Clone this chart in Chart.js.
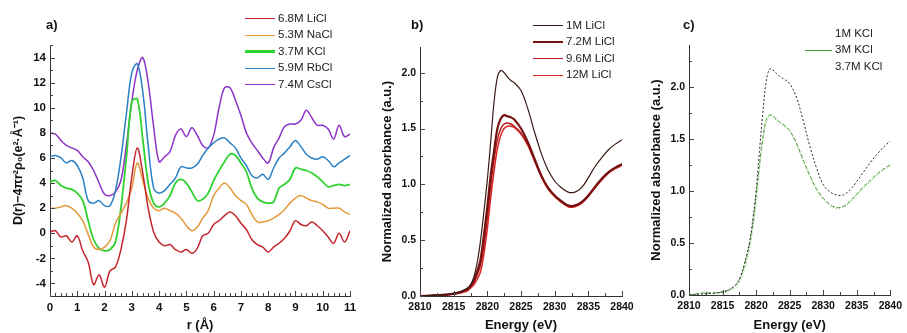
<!DOCTYPE html>
<html>
<head>
<meta charset="utf-8">
<title>RDF and Cl K-edge XANES</title>
<script src="https://cdn.jsdelivr.net/npm/chart.js@4.4.1/dist/chart.umd.min.js"></script>
<style>
  body { margin: 0; background: #fff; font-family: "Liberation Sans", Arial, sans-serif; }
  #wrap { position: relative; width: 907px; height: 333px; overflow: hidden; }
  canvas { position: absolute; top: 0; }
  .tag { position: absolute; font-weight: bold; font-size: 13px; color: #111; }
  .legend { position: absolute; font-size: 11.5px; color: #222; }
  .legend div { height: 16.4px; line-height: 16.4px; white-space: nowrap; }
  .legend i { display: inline-block; width: 30px; height: 0; vertical-align: middle; margin-right: 3px; }
</style>
</head>
<body>
<div id="wrap">
  <canvas id="chartA" width="362" height="333" style="left:0"></canvas>
  <canvas id="chartB" width="270" height="333" style="left:370px"></canvas>
  <canvas id="chartC" width="267" height="333" style="left:640px"></canvas>

  <div class="tag" style="left:46px;top:17px">a)</div>
  <div class="tag" style="left:411px;top:17px">b)</div>
  <div class="tag" style="left:683px;top:17px">c)</div>

  <div class="legend" id="legA" style="left:245px;top:10px"></div>
  <div class="legend" id="legB" style="left:533px;top:17px"></div>
  <div class="legend" id="legC" style="left:805px;top:25px"></div>
</div>

<script>
// --- a) D(r) curves, r in Å ---
const rValues = [0, 0.2, 0.4, 0.6, 0.8, 1.0, 1.2, 1.4, 1.6, 1.8, 2.0, 2.2, 2.4, 2.6, 2.8, 3.0, 3.2, 3.4, 3.6, 3.8,
  4.0, 4.2, 4.4, 4.6, 4.8, 5.0, 5.2, 5.4, 5.6, 5.8, 6.0, 6.2, 6.4, 6.6, 6.8, 7.0, 7.2, 7.4, 7.6, 7.8,
  8.0, 8.2, 8.4, 8.6, 8.8, 9.0, 9.2, 9.4, 9.6, 9.8, 10.0, 10.2, 10.4, 10.6, 10.8, 11.0];

const liCl68 = [0.1, 0.2, -0.3, -0.2, -0.7, -0.2, -1.4, -2.3, -4.1, -3.3, -4.3, -3.0, -2.7, -1.3, 1.0, 4.5, 6.8, 4.8, 2.0, 0.1,
  -0.7, -1.0, -0.9, -1.3, -1.5, -1.3, -1.6, -1.2, -0.2, 0.0, 0.7, 1.0, 1.4, 1.7, 1.4, 0.8, 0.3, -0.5, -0.9, -1.1,
  -1.5, -1.1, -0.8, -0.4, 0.2, 1.0, 0.7, 0.6, 0.9, 0.6, 0.2, -0.3, -0.8, 0.0, -0.7, 0.2];
const naCl53 = [2.0, 2.0, 2.1, 2.2, 2.0, 1.6, 1.0, -0.1, -1.1, -1.3, -1.1, -0.6, 0.8, 1.6, 2.4, 3.6, 5.6, 4.2, 2.8, 2.0,
  1.8, 2.0, 1.8, 1.6, 1.2, 0.6, 0.2, 0.5, 1.2, 1.8, 3.0, 3.6, 4.0, 3.6, 3.0, 2.6, 2.3, 1.5, 0.9, 0.9,
  1.0, 1.2, 1.5, 1.9, 2.4, 2.8, 3.0, 2.8, 2.6, 2.5, 2.3, 2.0, 2.0, 2.0, 1.7, 1.5];
const kCl37 = [4.1, 4.2, 3.8, 3.6, 3.5, 3.2, 2.6, 1.0, -0.5, -1.2, -1.4, -1.3, -0.7, 2.0, 6.0, 10.5, 10.7, 7.5, 4.0, 2.4,
  2.1, 2.4, 3.0, 4.0, 4.3, 4.0, 3.3, 2.6, 2.7, 3.2, 4.2, 5.0, 5.7, 6.3, 6.2, 5.6, 4.9, 3.6, 2.8, 2.5,
  2.4, 2.5, 3.6, 3.9, 4.3, 5.2, 5.1, 5.0, 4.8, 4.5, 4.1, 3.7, 3.8, 3.9, 3.8, 3.9];
const rbCl59 = [6.1, 6.2, 6.0, 5.6, 5.8, 5.4, 4.4, 2.6, 2.4, 2.6, 2.2, 2.2, 3.4, 6.0, 9.5, 12.8, 13.5, 11.3, 7.0, 3.6,
  3.2, 3.4, 3.9, 4.4, 5.3, 5.2, 5.2, 5.5, 6.2, 6.8, 7.2, 7.5, 7.6, 7.2, 6.8, 6.0, 5.4, 4.6, 4.4, 4.7,
  4.3, 5.2, 6.0, 6.4, 6.9, 7.4, 6.9, 6.3, 6.0, 5.9, 6.1, 5.8, 5.3, 5.6, 5.9, 6.2];
const csCl74 = [8.0, 7.9, 7.4, 7.0, 6.8, 6.6, 6.1, 5.7, 5.0, 4.0, 3.1, 3.0, 3.3, 4.2, 7.0, 10.5, 13.0, 14.0, 12.0, 8.5,
  5.7, 6.1, 6.5, 7.8, 8.3, 7.7, 8.4, 7.8, 7.0, 6.8, 7.8, 10.0, 11.6, 11.6, 10.6, 9.4, 8.0, 7.2, 6.6, 6.0,
  5.6, 6.8, 7.6, 8.5, 8.7, 8.7, 9.0, 9.8, 9.2, 8.6, 8.6, 8.3, 7.5, 8.6, 7.7, 7.9];

// --- b) and c) XANES, energy in eV ---
const energy = [2810, 2812, 2814, 2815, 2816, 2817, 2817.5, 2818, 2818.5, 2819, 2819.5, 2820, 2820.5, 2821, 2821.5,
  2822, 2822.5, 2823, 2823.5, 2824, 2825, 2826, 2827, 2828, 2829, 2830, 2831, 2832, 2833, 2834, 2835, 2836,
  2837, 2838, 2839, 2840];

const li1M = [0.0, 0.005, 0.015, 0.025, 0.04, 0.07, 0.1, 0.17, 0.3, 0.5, 0.76, 1.04, 1.38, 1.74, 1.96, 2.02, 2.0, 1.96, 1.93, 1.91,
  1.84, 1.68, 1.47, 1.28, 1.13, 1.03, 0.97, 0.93, 0.93, 0.97, 1.06, 1.16, 1.24, 1.31, 1.36, 1.40];
const li72M = [0.0, 0.005, 0.012, 0.02, 0.035, 0.06, 0.09, 0.14, 0.22, 0.33, 0.55, 0.8, 1.08, 1.3, 1.5, 1.59, 1.62, 1.61, 1.6, 1.58,
  1.5, 1.38, 1.23, 1.08, 0.97, 0.9, 0.85, 0.81, 0.81, 0.84, 0.9, 0.98, 1.05, 1.11, 1.15, 1.18];
const li96M = [0.0, 0.005, 0.012, 0.02, 0.03, 0.05, 0.08, 0.12, 0.19, 0.28, 0.45, 0.7, 0.98, 1.22, 1.4, 1.5, 1.54, 1.55, 1.54, 1.52,
  1.46, 1.36, 1.22, 1.08, 0.97, 0.9, 0.84, 0.81, 0.81, 0.84, 0.9, 0.97, 1.05, 1.11, 1.15, 1.18];
const li12M = [0.0, 0.005, 0.01, 0.018, 0.028, 0.045, 0.07, 0.1, 0.15, 0.22, 0.38, 0.6, 0.88, 1.12, 1.32, 1.44, 1.5, 1.52, 1.52, 1.51,
  1.45, 1.35, 1.21, 1.07, 0.96, 0.89, 0.84, 0.8, 0.8, 0.83, 0.89, 0.97, 1.04, 1.1, 1.14, 1.17];

const k1M = [0.0, 0.01, 0.02, 0.03, 0.05, 0.1, 0.15, 0.24, 0.36, 0.5, 0.72, 1.0, 1.38, 1.75, 2.05, 2.17, 2.16, 2.13, 2.1, 2.08,
  2.03, 1.9, 1.68, 1.43, 1.22, 1.06, 0.99, 0.96, 0.96, 1.01, 1.09, 1.18, 1.27, 1.35, 1.42, 1.48];
const k3M = [0.0, 0.02, 0.02, 0.03, 0.05, 0.1, 0.15, 0.23, 0.34, 0.48, 0.68, 0.95, 1.25, 1.5, 1.68, 1.73, 1.72, 1.69, 1.66, 1.64,
  1.58, 1.46, 1.3, 1.15, 1.02, 0.93, 0.87, 0.84, 0.85, 0.9, 0.97, 1.04, 1.1, 1.16, 1.21, 1.25];
const k37M = [0.0, 0.01, 0.015, 0.02, 0.04, 0.08, 0.12, 0.2, 0.3, 0.44, 0.62, 0.88, 1.2, 1.48, 1.66, 1.72, 1.71, 1.68, 1.65, 1.63,
  1.57, 1.45, 1.29, 1.14, 1.01, 0.92, 0.86, 0.83, 0.84, 0.89, 0.96, 1.03, 1.09, 1.15, 1.2, 1.24];

const FONT = '"Liberation Sans", Arial, sans-serif';

function pts(xs, ys) {
  return xs.map((x, i) => ({ x, y: ys[i] }));
}

function isMultiple(v, step) {
  const q = v / step;
  return Math.abs(q - Math.round(q)) < 1e-6;
}

// ticks drawn inward, short ones for minor steps
const innerTicks = {
  id: 'innerTicks',
  afterDatasetsDraw(chart) {
    const { ctx, chartArea: a } = chart;
    const sx = chart.scales.x, sy = chart.scales.y;
    ctx.save();
    ctx.strokeStyle = '#444';
    ctx.lineWidth = 1;
    ctx.beginPath();
    sx.ticks.forEach(t => {
      const px = Math.round(sx.getPixelForValue(t.value)) + 0.5;
      ctx.moveTo(px, a.bottom);
      ctx.lineTo(px, a.bottom - (t.label ? 5 : 3));
    });
    sy.ticks.forEach(t => {
      const py = Math.round(sy.getPixelForValue(t.value)) + 0.5;
      ctx.moveTo(a.left, py);
      ctx.lineTo(a.left + (t.label ? 5 : 3), py);
    });
    ctx.stroke();
    ctx.restore();
  }
};

function axis(o) {
  return {
    type: 'linear',
    min: o.min, max: o.max,
    grid: { display: false, drawTicks: false, tickLength: 0 },
    border: { display: true, color: '#333', width: 1 },
    afterBuildTicks: s => { s.ticks = s.ticks.filter(t => isMultiple(t.value, o.step)); },
    afterFit: s => { if (o.width) s.width = o.width; if (o.height) s.height = o.height; },
    ticks: {
      stepSize: o.step, autoSkip: false, maxRotation: 0, minRotation: 0, padding: o.tickPad,
      color: '#111', font: { family: FONT, size: o.tickSize, weight: 'bold' },
      callback: v => isMultiple(v, o.major) ? v.toFixed(o.decimals) : ''
    },
    title: {
      display: true, text: o.title, color: '#111',
      font: { family: FONT, size: o.titleSize, weight: 'bold' },
      padding: o.titlePad
    }
  };
}

function line(label, data, color, width, dash) {
  return {
    label, data, borderColor: color, backgroundColor: color,
    borderWidth: width, borderDash: dash || [], pointRadius: 0, tension: 0.35, fill: false
  };
}

function makeChart(id, datasets, scales, padding) {
  return new Chart(document.getElementById(id), {
    type: 'line',
    data: { datasets },
    options: {
      responsive: false, animation: false, devicePixelRatio: 1,
      layout: { padding },
      plugins: { legend: { display: false }, tooltip: { enabled: false } },
      scales
    },
    plugins: [innerTicks]
  });
}

// legends as plain html
function legend(id, items) {
  const box = document.getElementById(id);
  items.forEach(it => {
    const row = document.createElement('div');
    const sw = it.color ? `border-top:${it.width}px solid ${it.color}` : '';
    row.innerHTML = `<i style="${sw};width:${it.len || 30}px"></i>${it.label}`;
    box.appendChild(row);
  });
}

const cA = ['#c4262e', '#e49a3a', '#2fd22f', '#2a80c4', '#8d33c8'];
makeChart('chartA', [
  line('6.8M LiCl', pts(rValues, liCl68), cA[0], 1.5),
  line('5.3M NaCl', pts(rValues, naCl53), cA[1], 1.5),
  line('3.7M KCl', pts(rValues, kCl37), cA[2], 1.8),
  line('5.9M RbCl', pts(rValues, rbCl59), cA[3], 1.5),
  line('7.4M CsCl', pts(rValues, csCl74), cA[4], 1.5)
], {
  x: axis({ min: 0, max: 11, step: 0.2, major: 1, decimals: 0, tickSize: 11.5, tickPad: 5, title: 'r (Å)', titleSize: 13,
    titlePad: { top: 2, bottom: 0 }, height: 37 }),
  y: axis({ min: -5, max: 15, step: 1, major: 2, decimals: 0, tickSize: 11.5, tickPad: 4, title: 'D(r)−4πr²ρ₀(e²·Å⁻¹)', titleSize: 12.5,
    titlePad: { top: 11, bottom: 0 }, width: 50 })
}, { top: 45, right: 12, left: 0, bottom: 0 });

legend('legA', [
  { label: '6.8M LiCl', color: cA[0], width: 1.5 },
  { label: '5.3M NaCl', color: cA[1], width: 1.5 },
  { label: '3.7M KCl', color: cA[2], width: 3 },
  { label: '5.9M RbCl', color: cA[3], width: 1.5 },
  { label: '7.4M CsCl', color: cA[4], width: 1.5 }
]);

const cB = ['#3a1b15', '#741212', '#b42020', '#e02424'];
makeChart('chartB', [
  line('1M LiCl', pts(energy, li1M), cB[0], 1.2),
  line('7.2M LiCl', pts(energy, li72M), cB[1], 2.2),
  line('9.6M LiCl', pts(energy, li96M), cB[2], 1.5),
  line('12M LiCl', pts(energy, li12M), cB[3], 1.5)
], {
  x: axis({ min: 2810, max: 2840, step: 2.5, major: 5, decimals: 0, tickSize: 10.5, tickPad: 5, title: 'Energy (eV)', titleSize: 13,
    titlePad: { top: 2, bottom: 0 }, height: 37 }),
  y: axis({ min: 0, max: 2.23, step: 0.25, major: 0.5, decimals: 1, tickSize: 10.5, tickPad: 4, title: 'Normalized absorbance (a.u.)', titleSize: 13,
    titlePad: { top: 10, bottom: 0 }, width: 50 })
}, { top: 47, right: 18, left: 0, bottom: 0 });

legend('legB', [
  { label: '1M LiCl', color: cB[0], width: 1 },
  { label: '7.2M LiCl', color: cB[1], width: 2.5 },
  { label: '9.6M LiCl', color: cB[2], width: 1.5 },
  { label: '12M LiCl', color: cB[3], width: 1.5 }
]);

const cC = ['#2b2b2b', '#4f9f3d', '#92cc80'];
makeChart('chartC', [
  line('1M KCl', pts(energy, k1M), cC[0], 1, [2, 2]),
  line('3M KCl', pts(energy, k3M), cC[1], 1, [4, 2]),
  line('3.7M KCl', pts(energy, k37M), cC[2], 1.2, [1, 2])
], {
  x: axis({ min: 2810, max: 2840, step: 2.5, major: 5, decimals: 0, tickSize: 10.5, tickPad: 5, title: 'Energy (eV)', titleSize: 13,
    titlePad: { top: 2, bottom: 0 }, height: 38 }),
  y: axis({ min: 0, max: 2.4, step: 0.25, major: 0.5, decimals: 1, tickSize: 10.5, tickPad: 4, title: 'Normalized absorbance (a.u.)', titleSize: 13,
    titlePad: { top: 9, bottom: 0 }, width: 49 })
}, { top: 45, right: 10, left: 0, bottom: 0 });

legend('legC', [
  { label: '1M KCl', len: 27 },
  { label: '3M KCl', color: cC[1], width: 1, len: 27 },
  { label: '3.7M KCl', len: 27 }
]);
</script>
</body>
</html>
